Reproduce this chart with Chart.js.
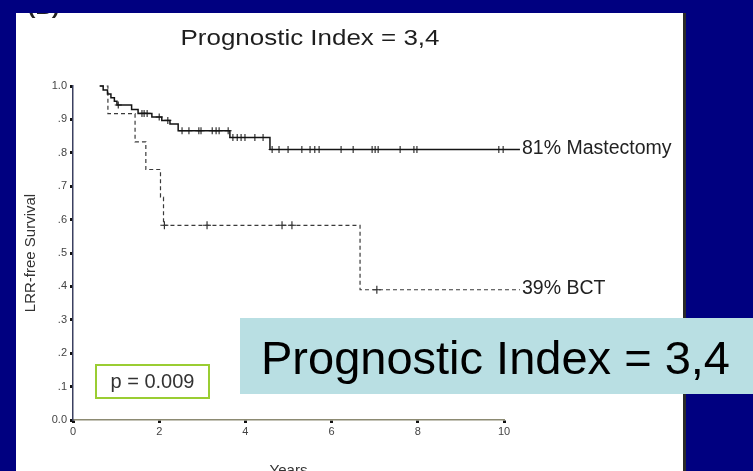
<!DOCTYPE html>
<html>
<head>
<meta charset="utf-8">
<script src="https://cdn.jsdelivr.net/npm/chart.js@4/dist/chart.umd.min.js"></script>
<style>
  html, body { margin: 0; padding: 0; background: #000080; }
  #wrap { width: 753px; height: 471px; }
</style>
</head>
<body>
<div id="wrap"><canvas id="km" width="753" height="471"></canvas></div>
<script>
// Axis ticks
const yearTicks = [0, 2, 4, 6, 8, 10];
const survivalTickLabels = ['0.0', '.1', '.2', '.3', '.4', '.5', '.6', '.7', '.8', '.9', '1.0'];

// Mastectomy group: event times (years) and survival after each event
const mastEventTimes = [0.62, 0.70, 0.80, 0.88, 0.96, 1.02, 1.36, 1.51, 1.83, 2.06, 2.25, 2.44, 3.64, 4.57, 10.37];
const mastSurvival   = [1.0, 0.988, 0.976, 0.965, 0.954, 0.943, 0.93, 0.918, 0.907, 0.897, 0.886, 0.866, 0.846, 0.81, 0.81];
const mastCensorTimes = [1.05, 1.60, 1.65, 1.72, 2.00, 2.20, 2.53, 2.69, 2.92, 2.97, 3.23, 3.32, 3.39, 3.60,
                         3.71, 3.81, 3.90, 3.99, 4.22, 4.41, 4.62, 4.78, 4.99, 5.31, 5.50, 5.61, 5.71, 6.22,
                         6.50, 6.94, 7.01, 7.08, 7.59, 7.91, 7.98, 9.88, 9.98];

// Breast-conserving therapy group
const bctEventTimes = [0.62, 0.81, 1.44, 1.69, 2.03, 2.10, 6.66, 10.37];
const bctSurvival   = [1.0, 0.917, 0.833, 0.75, 0.667, 0.583, 0.39, 0.39];
const bctCensorTimes = [2.12, 3.11, 4.85, 5.08, 7.05];

const seriesLabels = ['81% Mastectomy', '39% BCT'];
const titleText = 'Prognostic Index = 3,4';
const pValueText = 'p = 0.009';

function stepPoints(times, surv) {
  return times.map((t, i) => ({ x: t, y: surv[i] }));
}
function survivalAt(times, surv, t) {
  let s = surv[0];
  for (let i = 0; i < times.length; i++) { if (times[i] <= t) s = surv[i]; }
  return s;
}
function censorPoints(censor, times, surv) {
  return censor.map(t => ({ x: t, y: survivalAt(times, surv, t) }));
}

const FONT = '"Liberation Sans", Arial, Helvetica, sans-serif';

const decorPlugin = {
  id: 'decor',
  beforeDraw(chart) {
    const { ctx, width, height } = chart;
    ctx.save();
    ctx.fillStyle = '#000080';
    ctx.fillRect(0, 0, width, height);
    // white figure panel
    ctx.fillStyle = '#ffffff';
    ctx.fillRect(16, 13, 667, height - 13);
    ctx.fillStyle = '#2a2a2a';
    ctx.fillRect(683, 13, 3, height - 13);
    // panel letter, mostly hidden above the panel edge
    ctx.save();
    ctx.beginPath();
    ctx.rect(16, 13, 667, height - 13);
    ctx.clip();
    ctx.fillStyle = '#222';
    ctx.font = 'bold 19px ' + FONT;
    ctx.textBaseline = 'alphabetic';
    ctx.translate(28, 14);
    ctx.scale(1.18, 1);
    ctx.fillText('(B)', 0, 0);
    ctx.restore();
    ctx.restore();
  },
  afterDraw(chart) {
    const { ctx, chartArea, scales } = chart;
    const xs = scales.x, ys = scales.y;
    ctx.save();

    // title (stretched horizontally like the figure lettering)
    ctx.fillStyle = '#1e1e1e';
    ctx.font = '22px ' + FONT;
    ctx.textBaseline = 'alphabetic';
    const tw = ctx.measureText(titleText).width * 1.18;
    ctx.save();
    ctx.translate(310 - tw / 2, 45);
    ctx.scale(1.18, 1);
    ctx.fillText(titleText, 0, 0);
    ctx.restore();

    // axis titles
    ctx.fillStyle = '#333';
    ctx.font = '15px ' + FONT;
    ctx.textAlign = 'center';
    ctx.textBaseline = 'middle';
    ctx.save();
    ctx.translate(31, (chartArea.top + chartArea.bottom) / 2);
    ctx.rotate(-Math.PI / 2);
    ctx.fillText('LRR-free Survival', 0, 0);
    ctx.restore();
    ctx.textBaseline = 'top';
    ctx.fillText('Years', (chartArea.left + chartArea.right) / 2, 463);

    // curve end labels
    ctx.fillStyle = '#222';
    ctx.font = '19.5px ' + FONT;
    ctx.textAlign = 'left';
    ctx.textBaseline = 'middle';
    const mEnd = mastEventTimes[mastEventTimes.length - 1];
    const bEnd = bctEventTimes[bctEventTimes.length - 1];
    ctx.fillText(seriesLabels[0], xs.getPixelForValue(mEnd) + 2, ys.getPixelForValue(mastSurvival[mastSurvival.length - 1]) - 1);
    ctx.fillText(seriesLabels[1], xs.getPixelForValue(bEnd) + 2, ys.getPixelForValue(bctSurvival[bctSurvival.length - 1]) - 1);

    // p-value box
    const bx = chartArea.left + 23, by = chartArea.bottom - 55, bw = 113, bh = 33;
    ctx.fillStyle = '#ffffff';
    ctx.fillRect(bx, by, bw, bh);
    ctx.strokeStyle = '#9acd32';
    ctx.lineWidth = 2;
    ctx.strokeRect(bx, by, bw, bh);
    ctx.fillStyle = '#333';
    ctx.font = '20px ' + FONT;
    ctx.textAlign = 'center';
    ctx.fillText(pValueText, bx + bw / 2, by + bh / 2 + 1);

    // highlighted caption band
    ctx.fillStyle = '#b9dfe3';
    ctx.fillRect(240, 318, 513, 76);
    ctx.fillStyle = '#000';
    ctx.font = '47px ' + FONT;
    ctx.textAlign = 'left';
    ctx.textBaseline = 'alphabetic';
    ctx.fillText(titleText, 261, 374);

    ctx.restore();
  }
};

new Chart(document.getElementById('km'), {
  type: 'line',
  data: {
    datasets: [
      {
        label: seriesLabels[0],
        data: stepPoints(mastEventTimes, mastSurvival),
        stepped: 'before',
        borderColor: '#141414',
        borderWidth: 1.5,
        pointRadius: 0,
        fill: false,
        clip: false
      },
      {
        label: seriesLabels[1],
        data: stepPoints(bctEventTimes, bctSurvival),
        stepped: 'before',
        borderColor: '#3a3a3a',
        borderWidth: 1.2,
        borderDash: [4, 3],
        pointRadius: 0,
        fill: false,
        clip: false
      },
      {
        type: 'scatter',
        label: 'Mastectomy censored',
        data: censorPoints(mastCensorTimes, mastEventTimes, mastSurvival),
        pointStyle: 'cross',
        pointRadius: 3.5,
        borderColor: '#222',
        borderWidth: 1.1,
        clip: false
      },
      {
        type: 'scatter',
        label: 'BCT censored',
        data: censorPoints(bctCensorTimes, bctEventTimes, bctSurvival),
        pointStyle: 'cross',
        pointRadius: 4,
        borderColor: '#222',
        borderWidth: 1.1,
        clip: false
      }
    ]
  },
  options: {
    responsive: false,
    animation: false,
    devicePixelRatio: 1,
    layout: { padding: { left: 0, right: 249, top: 86, bottom: 0 } },
    plugins: { legend: { display: false }, tooltip: { enabled: false }, title: { display: false } },
    scales: {
      x: {
        type: 'linear',
        min: 0,
        max: 10,
        afterFit(s) { s.height = 51; },
        afterBuildTicks(s) { s.ticks = yearTicks.map(v => ({ value: v })); },
        ticks: { color: '#444', font: { size: 11, family: FONT }, padding: 2, maxRotation: 0,
                 callback: v => String(v) },
        grid: { drawOnChartArea: false, drawTicks: true, tickLength: 3, tickWidth: 3, tickColor: '#111' },
        border: { color: '#8c8a72', width: 1.5 }
      },
      y: {
        type: 'linear',
        min: 0,
        max: 1,
        afterFit(s) { s.width = 73; },
        afterBuildTicks(s) { s.ticks = survivalTickLabels.map((_, i) => ({ value: i / 10 })); },
        ticks: { color: '#444', font: { size: 11, family: FONT }, padding: 3,
                 callback: (v, i) => survivalTickLabels[i] },
        grid: { drawOnChartArea: false, drawTicks: true, tickLength: 3, tickWidth: 3, tickColor: '#111' },
        border: { color: '#3b4060', width: 1.5 }
      }
    }
  },
  plugins: [decorPlugin]
});
</script>
</body>
</html>
